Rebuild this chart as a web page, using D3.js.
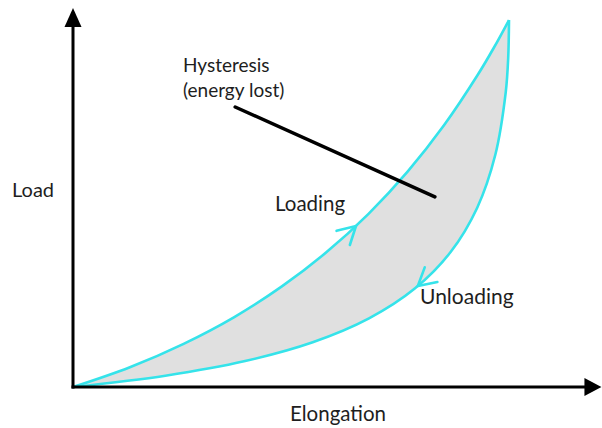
<!DOCTYPE html>
<html>
<head>
<meta charset="utf-8">
<script src="https://cdn.jsdelivr.net/npm/d3@7"></script>
<style>
  html, body { margin: 0; padding: 0; background: #fff; }
  svg { display: block; }
  text { font-family: Lato, "Open Sans", sans-serif; fill: #1e1e1e; }
</style>
</head>
<body>
<svg id="chart" width="602" height="428"></svg>
<script>
// ---- data (elongation, load) in relative units; peak of loop = (100, 100)
const loadingElong   = [0, 13.05, 25.37, 37.0, 47.91, 58.17, 67.78, 76.74, 85.09, 92.84, 96.49, 100];
const loadingLoad    = [0, 5.40, 11.77, 19.07, 27.41, 36.76, 47.19, 58.69, 71.31, 85.07, 92.37, 100];
const unloadingElong = [100, 99.82, 99.24, 96.86, 92.71, 86.61, 78.39, 67.89, 54.98, 39.47, 21.19, 0];
const unloadingLoad  = [100, 89.75, 80.22, 63.27, 48.86, 36.78, 26.81, 18.69, 12.18, 7.06, 3.08, 0];
// arrow positions on the curves (elongation, load)
const loadingArrowAt   = [65.1, 43.6];
const unloadingArrowAt = [77.6, 29.6];
// axis extents (elongation max, load max)
const axisMax = [121.2, 103.3];
// pointer line for the hysteresis label (elongation, load)
const pointerFrom = [37.2, 76.3];
const pointerTo   = [83.0, 51.8];
// labels
const labelTexts = {
  hyst1: "Hysteresis",
  hyst2: "(energy lost)",
  yLabel: "Load",
  xLabel: "Elongation",
  loading: "Loading",
  unloading: "Unloading"
};

const svg = d3.select("#chart");
const x = d3.scaleLinear().domain([0, 100]).range([73, 509]);
const y = d3.scaleLinear().domain([0, 100]).range([387, 20]);

const loadPts = loadingElong.map((e, i) => [e, loadingLoad[i]]);
const unloadPts = unloadingElong.map((e, i) => [e, unloadingLoad[i]]);

const curve = d3.curveCatmullRom.alpha(0.5);
const line = d3.line().x(d => x(d[0])).y(d => y(d[1])).curve(curve);

// filled loop: area between loading and unloading paths
const loopD = line(loadPts) + line(unloadPts).replace(/^M/, "L") + "Z";
svg.append("path")
  .attr("d", loopD)
  .attr("fill", "#e0e0e0")
  .attr("stroke", "none");

const cyan = "#35e3ea";
const loadPath = svg.append("path")
  .attr("d", line(loadPts))
  .attr("fill", "none").attr("stroke", cyan).attr("stroke-width", 2.6);
const unloadPath = svg.append("path")
  .attr("d", line(unloadPts))
  .attr("fill", "none").attr("stroke", cyan).attr("stroke-width", 2.6);

function chevron(pathSel, at) {
  const node = pathSel.node();
  const L = node.getTotalLength();
  const tx = x(at[0]), ty = y(at[1]);
  let best = 0, bd = Infinity;
  for (let s = 0; s <= L; s += 0.5) {
    const p = node.getPointAtLength(s);
    const d = (p.x - tx) ** 2 + (p.y - ty) ** 2;
    if (d < bd) { bd = d; best = s; }
  }
  const p = node.getPointAtLength(best);
  const q = node.getPointAtLength(Math.max(0, best - 4));
  const ang = Math.atan2(q.y - p.y, q.x - p.x); // backward direction
  const len = 20, spread = 29 * Math.PI / 180;
  const a1 = [p.x + len * Math.cos(ang + spread), p.y + len * Math.sin(ang + spread)];
  const a2 = [p.x + len * Math.cos(ang - spread), p.y + len * Math.sin(ang - spread)];
  svg.append("path")
    .attr("d", `M${a1[0]},${a1[1]}L${p.x},${p.y}L${a2[0]},${a2[1]}`)
    .attr("fill", "none").attr("stroke", cyan).attr("stroke-width", 2.6)
    .attr("stroke-linejoin", "miter").attr("stroke-linecap", "round");
}
chevron(loadPath, loadingArrowAt);
chevron(unloadPath, unloadingArrowAt);

// axes
const axisColor = "#000";
svg.append("line")
  .attr("x1", x(0)).attr("y1", y(0) + 1.5)
  .attr("x2", x(0)).attr("y2", y(axisMax[1]) + 14)
  .attr("stroke", axisColor).attr("stroke-width", 3);
svg.append("line")
  .attr("x1", x(0) - 1.5).attr("y1", y(0))
  .attr("x2", x(axisMax[0]) - 14).attr("y2", y(0))
  .attr("stroke", axisColor).attr("stroke-width", 3);
// arrowheads
const ytip = [x(0), y(axisMax[1])];
svg.append("path")
  .attr("d", `M${ytip[0]},${ytip[1]}L${ytip[0] - 8.5},${ytip[1] + 19}L${ytip[0] + 8.5},${ytip[1] + 19}Z`)
  .attr("fill", axisColor);
const xtip = [x(axisMax[0]), y(0)];
svg.append("path")
  .attr("d", `M${xtip[0]},${xtip[1]}L${xtip[0] - 17},${xtip[1] - 9}L${xtip[0] - 17},${xtip[1] + 9}Z`)
  .attr("fill", axisColor);

// pointer line
svg.append("line")
  .attr("x1", x(pointerFrom[0])).attr("y1", y(pointerFrom[1]))
  .attr("x2", x(pointerTo[0])).attr("y2", y(pointerTo[1]))
  .attr("stroke", "#000").attr("stroke-width", 3.5).attr("stroke-linecap", "round");

// labels
function label(t, px, py, fs) {
  svg.append("text").attr("x", px).attr("y", py).attr("font-size", fs).text(t);
}
label(labelTexts.hyst1, 183, 72, 19);
label(labelTexts.hyst2, 183, 97, 19);
label(labelTexts.yLabel, 12, 197, 20);
label(labelTexts.loading, 275, 211, 20.5);
label(labelTexts.unloading, 420, 304, 21);
label(labelTexts.xLabel, 290, 421, 20.5);
</script>
</body>
</html>
